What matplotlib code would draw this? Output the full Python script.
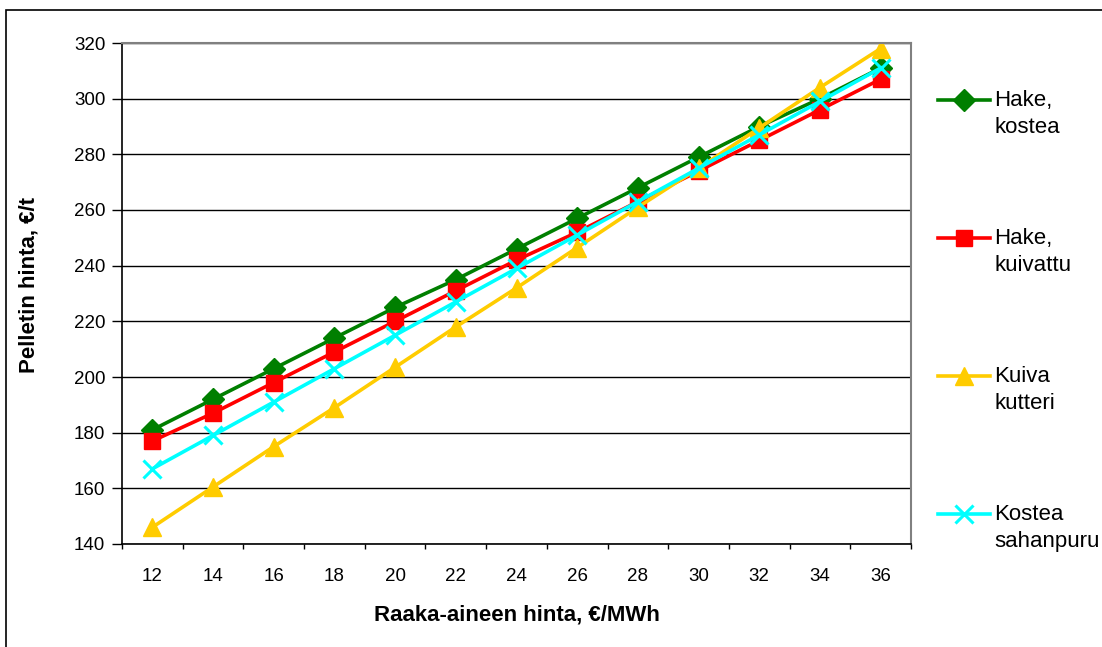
import matplotlib
matplotlib.use("Agg")
import matplotlib.pyplot as plt
from matplotlib.patches import Rectangle
from matplotlib.lines import Line2D
import numpy as np

plt.rcParams['font.family'] = ['Liberation Sans', 'DejaVu Sans']

# data
raw_price = [12, 14, 16, 18, 20, 22, 24, 26, 28, 30, 32, 34, 36]
hake_kostea = [181, 192, 203, 214, 225, 235, 246, 257, 268, 279, 290, 300, 311]
hake_kuivattu = [177, 187, 198, 209, 220, 231, 242, 252, 263, 274, 285, 296, 307]
kuiva_kutteri = [146, 160.5, 175, 189, 203.5, 218, 232, 246.5, 261, 275, 289.5, 304, 318]
kostea_sahanpuru = [167, 179, 191, 203, 215, 227, 239, 251, 263, 275, 287, 299, 311]

series = [
    ("Hake,", "kostea", hake_kostea, "#007f00", "D", 11.5),
    ("Hake,", "kuivattu", hake_kuivattu, "#ff0000", "s", 11.5),
    ("Kuiva", "kutteri", kuiva_kutteri, "#ffcc00", "^", 13),
    ("Kostea", "sahanpuru", kostea_sahanpuru, "#00ffff", "x", 12.5),
]

W, H = 1102, 647
fig = plt.figure(figsize=(W / 100, H / 100), dpi=100)
ax = fig.add_axes([122 / W, 1 - 544 / H, 789 / W, 501 / H])

x = np.arange(len(raw_price))
legend_y = [100, 238, 376, 514]  # pixel rows of the legend handles
for (l1, l2, vals, col, mk, ms), ly in zip(series, legend_y):
    mkw = dict(color=col, marker=mk, ms=ms)
    if mk == "x":
        mkw.update(mew=2.2)
    else:
        mkw.update(mec=col)
    ax.plot(x, vals, lw=2.6, **mkw)
    # hand-made legend entry, handle aligned with first text line
    yf = 1 - ly / H
    fig.add_artist(Line2D([938 / W, 990 / W], [yf, yf], transform=fig.transFigure,
                          color=col, lw=2.6))
    fig.add_artist(Line2D([964 / W], [yf], transform=fig.transFigure, ls='none', **mkw))
    fig.text(994 / W, 1 - (ly + 6) / H, l1, fontsize=16, va='baseline', ha='left')
    fig.text(994 / W, 1 - (ly + 33) / H, l2, fontsize=16, va='baseline', ha='left')

ax.set_xlim(-0.5, len(raw_price) - 0.5)
ax.set_ylim(140, 320)
ax.set_yticks(np.arange(140, 321, 20))
ax.set_xticks(x)
ax.set_xticklabels([str(v) for v in raw_price])
ax.set_xticks(np.arange(-0.5, len(raw_price)), minor=True)
ax.tick_params(axis='x', which='major', length=0, labelsize=13.5, pad=17)
ax.tick_params(axis='x', which='minor', length=3.8, width=1, direction='out')
ax.tick_params(axis='y', length=7, width=1, direction='out', labelsize=13.5, pad=5)

ax.grid(axis='y', color='black', lw=1)
ax.set_axisbelow(True)
for s in ['top', 'right']:
    ax.spines[s].set_color('#808080')
    ax.spines[s].set_linewidth(1.5)
for s in ['left', 'bottom']:
    ax.spines[s].set_color('black')
    ax.spines[s].set_linewidth(1.2)

ax.set_xlabel("Raaka-aineen hinta, €/MWh", fontsize=16, fontweight='bold')
ax.set_ylabel("Pelletin hinta, €/t", fontsize=16, fontweight='bold')
ax.xaxis.set_label_coords(0.5, -0.12)
ax.yaxis.set_label_coords(-0.104, 0.517)

fig.patches.append(Rectangle((6 / W, -0.01), 1.0, 1 - 10 / H + 0.01, transform=fig.transFigure,
                             fill=False, edgecolor='black', lw=1.2))

fig.savefig("out.png", dpi=100)
